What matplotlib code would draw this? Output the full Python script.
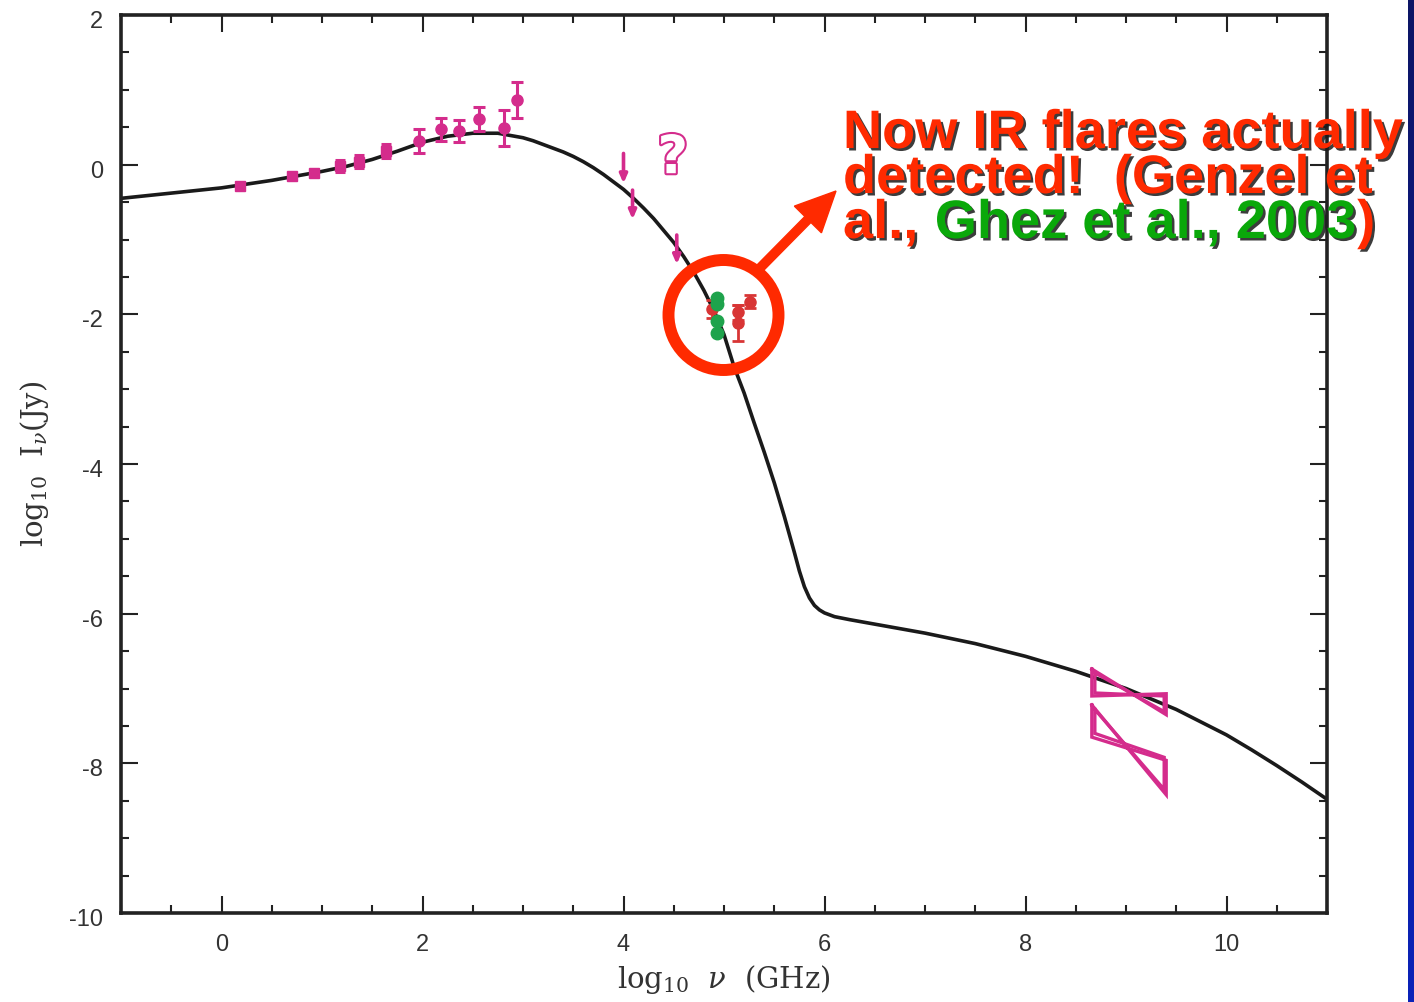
import numpy as np
import matplotlib
matplotlib.use("Agg")
import matplotlib.pyplot as plt
import matplotlib.patheffects as pe
import matplotlib.transforms as mtransforms
from matplotlib.patches import Circle, FancyArrow
from matplotlib.ticker import MultipleLocator

# model spectrum
curve_x = [-1.0, -0.5, 0.0, 0.5, 1.0, 1.25, 1.5, 1.75, 2.0, 2.25, 2.5, 2.75, 3.0,
           3.1, 3.2, 3.3, 3.4, 3.5, 3.6, 3.7, 3.8, 3.9, 4.0, 4.1, 4.2, 4.3, 4.4,
           4.5, 4.6, 4.7, 4.8, 4.9, 5.0, 5.1, 5.2, 5.3, 5.4, 5.5, 5.6, 5.7, 5.75,
           5.8, 5.85, 5.9, 5.95, 6.0, 6.1, 6.25, 6.5, 6.75, 7.0, 7.5, 8.0, 8.5,
           9.0, 9.5, 10.0, 10.25, 10.5, 10.75, 11.0]
curve_y = [-0.45, -0.38, -0.31, -0.21, -0.09, -0.02, 0.07, 0.18, 0.30, 0.38, 0.42,
           0.42, 0.36, 0.32, 0.27, 0.22, 0.17, 0.11, 0.04, -0.04, -0.13, -0.23,
           -0.33, -0.45, -0.58, -0.72, -0.88, -1.04, -1.23, -1.44, -1.68, -1.95,
           -2.27, -2.70, -3.05, -3.45, -3.84, -4.25, -4.70, -5.18, -5.43, -5.64,
           -5.79, -5.89, -5.95, -5.99, -6.04, -6.08, -6.14, -6.20, -6.26, -6.40,
           -6.57, -6.77, -7.00, -7.28, -7.62, -7.82, -8.03, -8.25, -8.48]

# radio squares
sq_x = [0.18, 0.70, 0.92, 1.18, 1.37, 1.64]
sq_y = [-0.29, -0.15, -0.11, -0.02, 0.04, 0.18]
sq_err = [0.0, 0.0, 0.0, 0.08, 0.09, 0.09]

# submm circles
mm_x = [1.97, 2.18, 2.36, 2.56, 2.81, 2.94]
mm_y = [0.32, 0.47, 0.45, 0.61, 0.49, 0.86]
mm_err = [0.16, 0.15, 0.145, 0.16, 0.24, 0.24]

# IR upper limits (top, tip)
lim_x = [4.00, 4.09, 4.53]
lim_top = [0.15, -0.34, -0.94]
lim_tip = [-0.25, -0.73, -1.33]

# flares
red_x = [4.88, 5.14, 5.14, 5.26]
red_y = [-1.93, -1.97, -2.12, -1.83]
red_err = [0.12, 0.10, 0.24, 0.09]
green_x = [4.93, 4.93, 4.93, 4.93]
green_y = [-1.78, -1.86, -2.09, -2.25]

# X-ray bowties: x0, x1, top-left, bottom-left, top-right, bottom-right
bowties = [
    (8.66, 9.40, -6.74, -7.10, -7.07, -7.35),
    (8.69, 9.38, -6.79, -7.06, -7.10, -7.31),
    (8.66, 9.40, -7.22, -7.65, -7.96, -8.42),
    (8.69, 9.38, -7.28, -7.60, -7.92, -8.35),
]

magenta = "#d42c8c"
red_pt = "#d83535"
green_pt = "#1ea34c"
ann_red = "#ff2a00"
ann_green = "#0aa80a"

plt.rcParams["axes.unicode_minus"] = False
plt.rcParams["mathtext.fontset"] = "custom"
plt.rcParams["mathtext.rm"] = "DejaVu Serif"
plt.rcParams["mathtext.it"] = "DejaVu Serif:italic"

fig = plt.figure(figsize=(14.14, 10.02), dpi=100)
ax = fig.add_axes([121 / 1414, 89 / 1002, 1206 / 1414, 898 / 1002])

ax.plot(curve_x, curve_y, color="#1a1a1a", lw=2.6, zorder=2,
        solid_capstyle="round", solid_joinstyle="round")

ax.errorbar(sq_x, sq_y, yerr=sq_err, fmt="s", ms=7.5, color=magenta,
            ecolor=magenta, elinewidth=2.2, capsize=3.5, capthick=2.2, zorder=3)
ax.errorbar(mm_x, mm_y, yerr=mm_err, fmt="o", ms=8, color=magenta,
            ecolor=magenta, elinewidth=2.2, capsize=4, capthick=2.2, zorder=3)

for x, yt, yb in zip(lim_x, lim_top, lim_tip):
    ax.annotate("", xy=(x, yb), xytext=(x, yt),
                arrowprops=dict(arrowstyle="-|>,head_length=0.5,head_width=0.22",
                                color=magenta, lw=2.6, mutation_scale=10,
                                shrinkA=0, shrinkB=0), zorder=3)

ax.text(4.49, 0.16, "?", fontsize=38, ha="center", va="center_baseline",
        family="DejaVu Sans", weight="bold", color="white", zorder=3,
        path_effects=[pe.Stroke(linewidth=3, foreground=magenta), pe.Normal()])

ax.errorbar(red_x, red_y, yerr=red_err, fmt="o", ms=8, color=red_pt,
            ecolor=red_pt, elinewidth=2, capsize=4, capthick=2, zorder=3)
ax.plot(green_x, green_y, "o", ms=9, color=green_pt, zorder=4)

for x0, x1, tl, bl, tr, br in bowties:
    ax.plot([x0, x1, x1, x0, x0], [tl, br, tr, bl, tl], color=magenta, lw=2.4,
            zorder=3, solid_joinstyle="miter")

ax.set_xlim(-1, 11)
ax.set_ylim(-10, 2)
ax.xaxis.set_major_locator(MultipleLocator(2))
ax.xaxis.set_minor_locator(MultipleLocator(0.5))
ax.yaxis.set_major_locator(MultipleLocator(2))
ax.yaxis.set_minor_locator(MultipleLocator(0.5))
ax.tick_params(which="both", direction="in", top=True, right=True,
               width=1.5, color="#222222", labelsize=17, labelcolor="#333333")
ax.tick_params(which="major", length=12, pad=13)
ax.tick_params(axis="x", which="major", pad=15)
ax.tick_params(which="minor", length=6)
for sp in ax.spines.values():
    sp.set_linewidth(2.6)
    sp.set_color("#222222")

ax.set_xlabel(r"$\mathrm{log}_{10}\ \ \nu\ \ \mathrm{(GHz)}$", fontsize=21,
              color="#333333", labelpad=5)
ax.set_ylabel(r"$\mathrm{log}_{10}\ \ \mathrm{I}_{\nu}\mathrm{(Jy)}$", fontsize=21,
              color="#333333", labelpad=13)

# tick label fonts; y labels sit a little below their ticks in the original
shift = mtransforms.ScaledTranslation(0, -0.045, fig.dpi_scale_trans)
for lab in ax.get_xticklabels():
    lab.set_family("Liberation Sans")
for lab in ax.get_yticklabels():
    lab.set_family("Liberation Sans")
    lab.set_transform(lab.get_transform() + shift)

# annotation: circle, arrow, text (pixel positions turned into inches)
ring = Circle((7.235, (1002 - 315) / 100), 0.55, transform=fig.dpi_scale_trans,
              fill=False, ec=ann_red, lw=8.6, zorder=10)
fig.add_artist(ring)
arrow = FancyArrow(7.60, (1002 - 268) / 100, 0.76, 0.77, width=0.085,
                   head_width=0.38, head_length=0.40, length_includes_head=True,
                   transform=fig.dpi_scale_trans, color=ann_red, zorder=10)
fig.add_artist(arrow)

shadow = [pe.withSimplePatchShadow(offset=(1.8, -1.8), shadow_rgbFace="#1a1a1a",
                                   alpha=0.85)]
tkw = dict(fontsize=39, family="Liberation Sans", weight="bold",
           ha="left", path_effects=shadow, zorder=11)
x_txt = 843 / 1414
fig.text(x_txt, 1 - 148 / 1002, "Now IR flares actually", color=ann_red,
         va="baseline", **tkw)
fig.text(x_txt, 1 - 193 / 1002, "detected!  (Genzel et", color=ann_red,
         va="baseline", **tkw)
t1 = fig.text(x_txt, 1 - 238 / 1002, "al.,", color=ann_red, va="baseline", **tkw)
t2 = ax.annotate("Ghez et al., 2003", xy=(1, 0), xycoords=t1, xytext=(12, 0),
                 textcoords="offset points", color=ann_green,
                 annotation_clip=False, va="bottom", **tkw)
ax.annotate(")", xy=(1, 0), xycoords=t2, xytext=(1, 0),
            textcoords="offset points", color=ann_red, annotation_clip=False,
            va="bottom", **tkw)

# slide edge on the right
bar = fig.add_axes([1408 / 1414, 0, 6 / 1414, 1])
bar.imshow(np.linspace(0, 1, 100).reshape(-1, 1), aspect="auto",
           cmap=matplotlib.colors.LinearSegmentedColormap.from_list(
               "edge", ["#0d1565", "#0a22b8"]))
bar.set_axis_off()

fig.savefig("out.png", dpi=100)
